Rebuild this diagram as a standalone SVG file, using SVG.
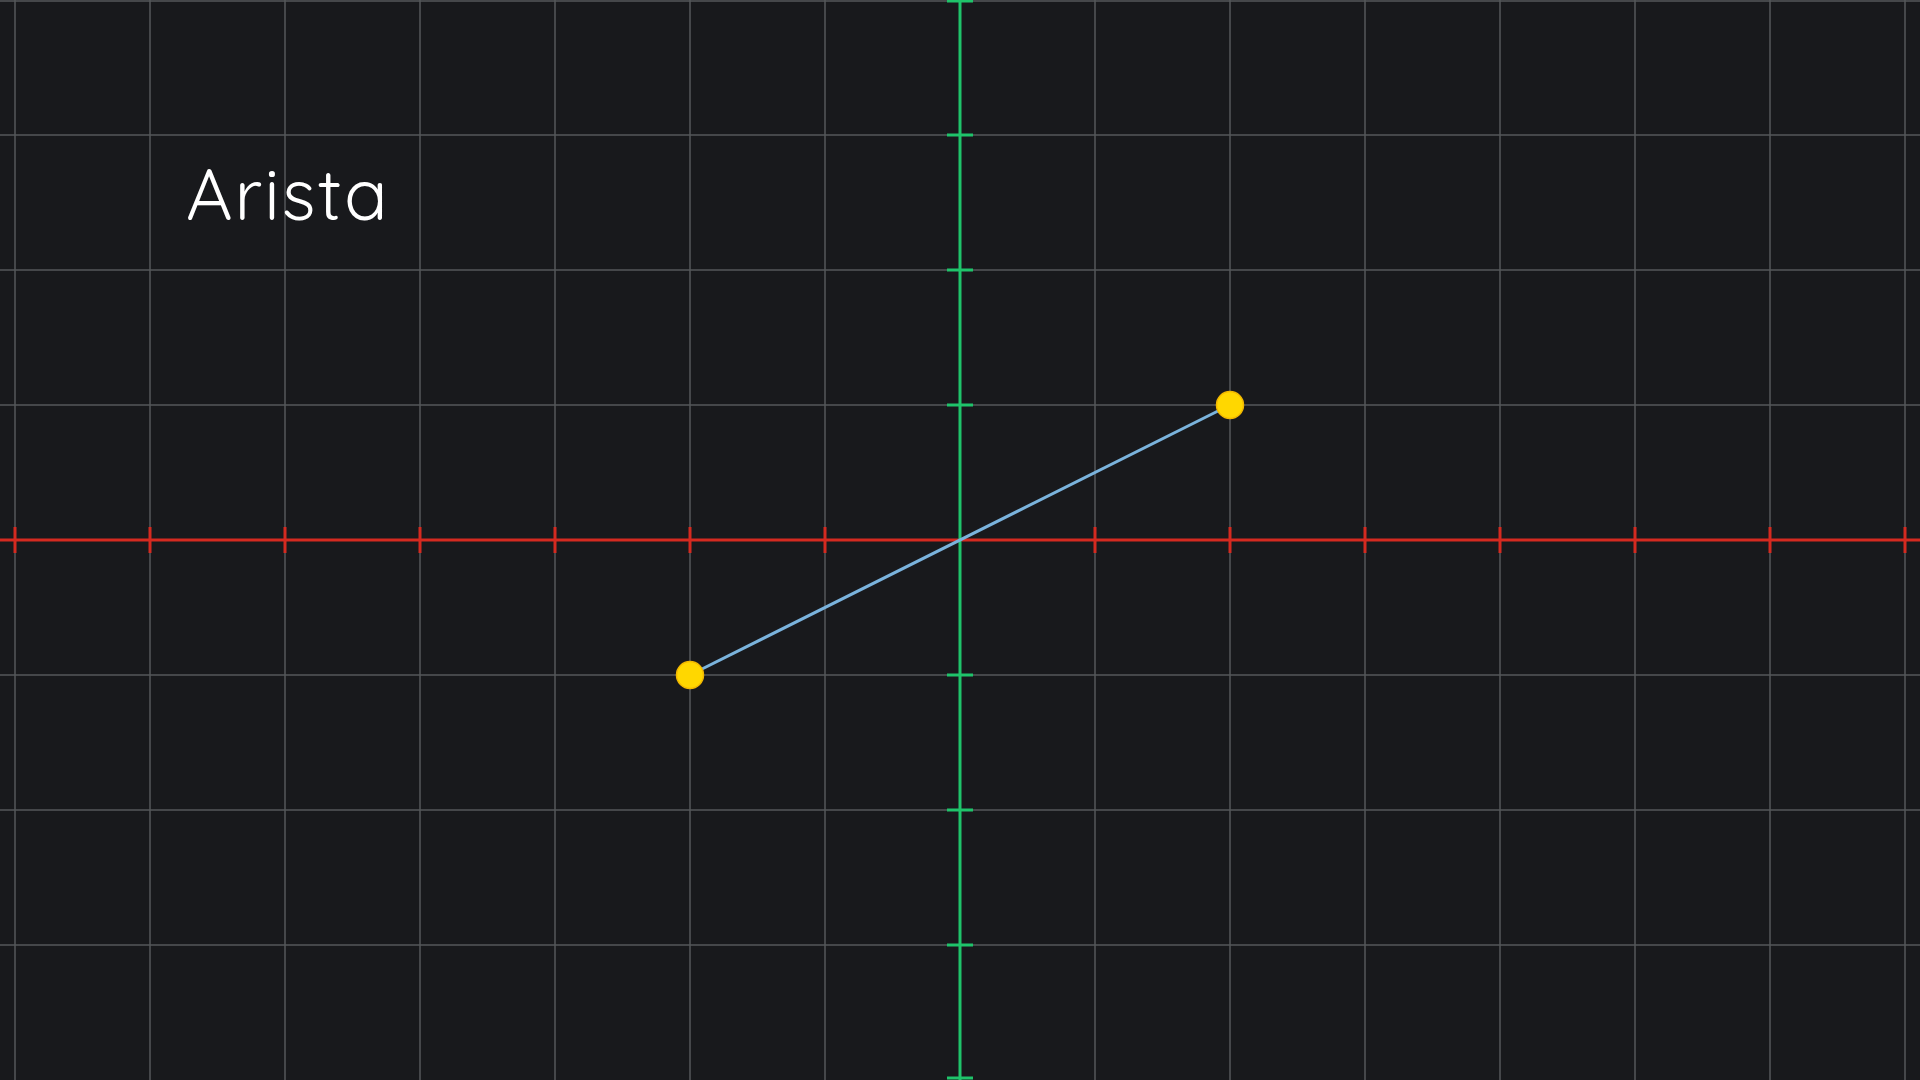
<svg xmlns="http://www.w3.org/2000/svg" width="1920" height="1080" viewBox="0 0 1920 1080">
<style>
.g{stroke:#55575a;stroke-width:1.5}
.xa{stroke:#d42a20;stroke-width:3}
.ya{stroke:#1fc46a;stroke-width:3}
.pt{fill:#ffd700;stroke:#f2b800;stroke-width:1.5}
.lbl{font-family:"Quicksand","Comfortaa","Lato","Noto Sans",sans-serif;font-weight:400;font-size:72px;letter-spacing:2px;fill:#ffffff}
</style>
<rect width="1920" height="1080" fill="#18191c"/>
<g id="grid">
<line class="g" x1="15" y1="0" x2="15" y2="1080"/>
<line class="g" x1="150" y1="0" x2="150" y2="1080"/>
<line class="g" x1="285" y1="0" x2="285" y2="1080"/>
<line class="g" x1="420" y1="0" x2="420" y2="1080"/>
<line class="g" x1="555" y1="0" x2="555" y2="1080"/>
<line class="g" x1="690" y1="0" x2="690" y2="1080"/>
<line class="g" x1="825" y1="0" x2="825" y2="1080"/>
<line class="g" x1="1095" y1="0" x2="1095" y2="1080"/>
<line class="g" x1="1230" y1="0" x2="1230" y2="1080"/>
<line class="g" x1="1365" y1="0" x2="1365" y2="1080"/>
<line class="g" x1="1500" y1="0" x2="1500" y2="1080"/>
<line class="g" x1="1635" y1="0" x2="1635" y2="1080"/>
<line class="g" x1="1770" y1="0" x2="1770" y2="1080"/>
<line class="g" x1="1905" y1="0" x2="1905" y2="1080"/>
<line class="g" x1="0" y1="1" x2="1920" y2="1"/>
<line class="g" x1="0" y1="135" x2="1920" y2="135"/>
<line class="g" x1="0" y1="270" x2="1920" y2="270"/>
<line class="g" x1="0" y1="405" x2="1920" y2="405"/>
<line class="g" x1="0" y1="675" x2="1920" y2="675"/>
<line class="g" x1="0" y1="810" x2="1920" y2="810"/>
<line class="g" x1="0" y1="945" x2="1920" y2="945"/>
</g>
<g id="x-axis">
<line class="xa" x1="0" y1="540" x2="1920" y2="540"/>
<path class="xa" d="M15 527V553M150 527V553M285 527V553M420 527V553M555 527V553M690 527V553M825 527V553M1095 527V553M1230 527V553M1365 527V553M1500 527V553M1635 527V553M1770 527V553M1905 527V553"/>
</g>
<g id="y-axis">
<line class="ya" x1="960" y1="0" x2="960" y2="1080"/>
<path class="ya" d="M947 1H973M947 135H973M947 270H973M947 405H973M947 675H973M947 810H973M947 945H973M947 1078H973"/>
</g>
<g id="connectors">
<line x1="690" y1="675" x2="1230" y2="405" stroke="#7ab3dc" stroke-width="3"/>
</g>
<g id="p1"><circle class="pt" cx="690" cy="675" r="13.5"/></g>
<g id="p2"><circle class="pt" cx="1230" cy="405" r="13.5"/></g>
<g id="title"><text class="lbl" x="186" y="220">Arista</text></g>
</svg>
